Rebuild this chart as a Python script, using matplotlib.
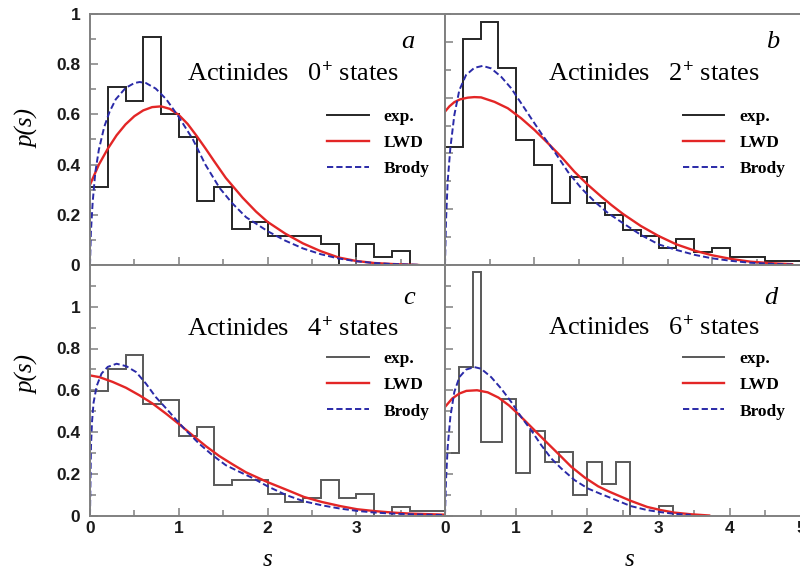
import numpy as np
import matplotlib
matplotlib.use('Agg')
import matplotlib.pyplot as plt
from matplotlib.lines import Line2D
from matplotlib.ticker import MultipleLocator, FixedLocator, FuncFormatter

plt.rcParams['font.family'] = 'Liberation Sans'
plt.rcParams['font.weight'] = 'bold'
plt.rcParams['mathtext.fontset'] = 'custom'
plt.rcParams['mathtext.rm'] = 'Liberation Serif'
plt.rcParams['mathtext.it'] = 'Liberation Serif:italic'

# ---- histograms of nearest-neighbour spacings (bin edges + heights) ----
edges_a = np.arange(0, 3.61, 0.2)
hist_a = [0.31, 0.71, 0.655, 0.91, 0.60, 0.51, 0.255, 0.31, 0.145, 0.17,
          0.115, 0.115, 0.115, 0.085, 0.0, 0.085, 0.03, 0.057]

edges_b = np.arange(0, 4.01, 0.2)
hist_b = [0.422, 0.81, 0.87, 0.707, 0.448, 0.359, 0.223, 0.315, 0.223, 0.179,
          0.125, 0.103, 0.06, 0.092, 0.048, 0.06, 0.03, 0.03, 0.014, 0.014]

edges_c = np.arange(0, 4.01, 0.2)
hist_c = [0.596, 0.703, 0.77, 0.533, 0.555, 0.381, 0.424, 0.148, 0.172, 0.172,
          0.105, 0.065, 0.085, 0.172, 0.083, 0.105, 0.0, 0.04, 0.022, 0.022]

edges_d = [0, 0.2, 0.4, 0.5, 0.8, 1.0, 1.2, 1.4, 1.6, 1.8, 2.0, 2.2, 2.4, 2.6, 3.0, 3.2]
hist_d = [0.301, 0.711, 1.166, 0.352, 0.56, 0.204, 0.405, 0.254, 0.305, 0.10,
          0.254, 0.153, 0.254, 0.0, 0.046]

# ---- LWD curves ----
s_lwd_a = [0, 0.1, 0.2, 0.3, 0.4, 0.5, 0.6, 0.7, 0.8, 0.9, 1.0, 1.1, 1.2, 1.3, 1.4, 1.53,
           1.72, 1.87, 2.0, 2.2, 2.4, 2.6, 2.8, 3.0, 3.2, 3.4, 3.7]
p_lwd_a = [0.32, 0.40, 0.463, 0.517, 0.56, 0.593, 0.616, 0.629, 0.632, 0.622, 0.598, 0.562,
           0.515, 0.465, 0.413, 0.347, 0.268, 0.213, 0.172, 0.125, 0.086, 0.055, 0.03,
           0.016, 0.008, 0.004, 0.0]

s_lwd_b = [0, 0.05, 0.105, 0.17, 0.255, 0.33, 0.405, 0.556, 0.706, 0.856, 1.006, 1.156,
           1.306, 1.456, 1.607, 1.757, 1.87, 2.0, 2.2, 2.4, 2.6, 2.81, 3.0, 3.21, 3.43,
           3.69, 3.9]
p_lwd_b = [0.55, 0.569, 0.584, 0.594, 0.60, 0.602, 0.601, 0.585, 0.562, 0.526, 0.484, 0.437,
           0.388, 0.334, 0.287, 0.245, 0.215, 0.183, 0.14, 0.104, 0.074, 0.051, 0.035,
           0.022, 0.012, 0.006, 0.003]

s_lwd_c = [0, 0.105, 0.255, 0.405, 0.556, 0.706, 0.856, 1.006, 1.156, 1.306, 1.456, 1.607,
           1.757, 2.0, 2.21, 2.41, 2.61, 2.82, 3.01, 3.21, 3.41, 3.61, 4.0]
p_lwd_c = [0.671, 0.663, 0.64, 0.612, 0.576, 0.536, 0.488, 0.437, 0.384, 0.332, 0.285, 0.245,
           0.207, 0.16, 0.124, 0.089, 0.065, 0.045, 0.03, 0.021, 0.014, 0.009, 0.004]

s_lwd_d = [0, 0.1, 0.2, 0.3, 0.45, 0.6, 0.75, 0.9, 1.023, 1.211, 1.399, 1.587, 1.775,
           1.962, 2.15, 2.315, 2.61, 2.84, 3.03, 3.22, 3.45, 3.71]
p_lwd_d = [0.52, 0.56, 0.584, 0.597, 0.60, 0.59, 0.565, 0.527, 0.488, 0.424, 0.36, 0.297,
           0.233, 0.182, 0.14, 0.113, 0.07, 0.041, 0.026, 0.014, 0.006, 0.0]

# ---- Brody curves ----
s_br_a = [0, 0.01, 0.03, 0.06, 0.1, 0.16, 0.22, 0.29, 0.4, 0.5, 0.56, 0.63, 0.74, 0.86,
          1.0, 1.16, 1.3, 1.46, 1.6, 1.76, 1.87, 2.0, 2.2, 2.4, 2.6, 2.8, 3.0, 3.2, 3.4, 3.7]
p_br_a = [0, 0.13, 0.25, 0.37, 0.46, 0.55, 0.61, 0.66, 0.705, 0.725, 0.729, 0.725, 0.703, 0.66,
          0.59, 0.50, 0.40, 0.307, 0.247, 0.19, 0.165, 0.135, 0.097, 0.066, 0.043, 0.026,
          0.015, 0.008, 0.004, 0.001]

s_br_b = [0, 0.011, 0.03, 0.06, 0.105, 0.161, 0.236, 0.33, 0.424, 0.518, 0.631, 0.743, 0.856,
          0.968, 1.081, 1.231, 1.381, 1.532, 1.682, 1.832, 2.0, 2.2, 2.4, 2.6, 2.81, 3.0,
          3.21, 3.43, 3.69, 3.9]
p_br_b = [0, 0.155, 0.299, 0.419, 0.538, 0.627, 0.681, 0.707, 0.714, 0.705, 0.675, 0.634, 0.58,
          0.526, 0.472, 0.406, 0.334, 0.275, 0.227, 0.186, 0.15, 0.108, 0.074, 0.054, 0.036,
          0.024, 0.015, 0.008, 0.004, 0.002]

s_br_c = [0, 0.011, 0.023, 0.04, 0.075, 0.13, 0.2, 0.3, 0.41, 0.52, 0.63, 0.74, 0.86, 0.97,
          1.08, 1.23, 1.38, 1.53, 1.68, 1.83, 2.0, 2.21, 2.41, 2.61, 2.82, 3.01, 3.21, 3.41,
          3.61, 4.0]
p_br_c = [0, 0.33, 0.45, 0.54, 0.62, 0.68, 0.712, 0.727, 0.715, 0.687, 0.632, 0.568, 0.512,
          0.459, 0.408, 0.344, 0.289, 0.241, 0.21, 0.18, 0.14, 0.098, 0.068, 0.049, 0.033,
          0.022, 0.014, 0.009, 0.006, 0.002]

s_br_d = [0, 0.014, 0.038, 0.075, 0.131, 0.202, 0.296, 0.413, 0.507, 0.648, 0.789, 0.93,
          1.07, 1.211, 1.352, 1.493, 1.634, 1.822, 2.009, 2.197, 2.315, 2.61, 2.84, 3.03,
          3.22, 3.45]
p_br_d = [0, 0.169, 0.329, 0.472, 0.592, 0.663, 0.699, 0.711, 0.703, 0.663, 0.608, 0.544,
          0.472, 0.408, 0.337, 0.273, 0.225, 0.169, 0.129, 0.102, 0.086, 0.045, 0.026, 0.016,
          0.008, 0.003]

titles = ['Actinides   0$^{+}$ states', 'Actinides   2$^{+}$ states',
          'Actinides   4$^{+}$ states', 'Actinides   6$^{+}$ states']
letters = ['a', 'b', 'c', 'd']

RED = '#e32626'
BLUE = '#2a2aa8'
SPINE = '#808080'
SERIF = 'Liberation Serif'

W, H = 800, 575
fig = plt.figure(figsize=(8, 5.75), dpi=100)


def add_axes_px(x0, y0, x1, y1):
    return fig.add_axes([x0 / W, 1 - y1 / H, (x1 - x0) / W, (y1 - y0) / H])


ax_a = add_axes_px(90, 14, 445, 265)
ax_b = add_axes_px(445, 14, 801, 265)
ax_c = add_axes_px(90, 265, 445, 515.5)
ax_d = add_axes_px(445, 265, 801, 515.5)

panels = [
    (ax_a, edges_a, hist_a, '#262626', s_lwd_a, p_lwd_a, s_br_a, p_br_a, 4.0, 1.0, 0.273, 0.737, 0.878, 0.866, 0.622),
    (ax_b, edges_b, hist_b, '#262626', s_lwd_b, p_lwd_b, s_br_b, p_br_b, 4.0, 0.9, 0.290, 0.737, 0.901, 0.866, 0.622),
    (ax_c, edges_c, hist_c, '#595959', s_lwd_c, p_lwd_c, s_br_c, p_br_c, 4.0, 1.2, 0.273, 0.717, 0.882, 0.843, 0.657),
    (ax_d, edges_d, hist_d, '#595959', s_lwd_d, p_lwd_d, s_br_d, p_br_d, 5.0, 1.2, 0.290, 0.721, 0.896, 0.843, 0.657),
]

for i, (ax, edges, hist, hcol, sl, pl, sb, pb, xmax, ymax, tx, ty, lx, ly, legy) in enumerate(panels):
    ax.stairs(hist, edges, color=hcol, lw=1.4, baseline=0)
    ax.plot(sl, pl, color=RED, lw=1.7)
    ax.plot(sb, pb, color=BLUE, lw=1.4, dashes=(3.2, 1.6))
    ax.set_xlim(0, xmax)
    ax.set_ylim(0, ymax)

    ax.xaxis.set_major_locator(FixedLocator([0, 1, 2, 3] if xmax == 4.0 else [0, 1, 2, 3, 4, 5]))
    ax.xaxis.set_minor_locator(MultipleLocator(0.5))
    # labelled y ticks stop at 1
    ax.yaxis.set_major_locator(FixedLocator([0, 0.2, 0.4, 0.6, 0.8, 1.0]))
    ax.yaxis.set_minor_locator(MultipleLocator(0.1))
    ax.yaxis.set_major_formatter(FuncFormatter(lambda v, _: '%g' % round(v, 2)))
    ax.tick_params(which='both', direction='in', top=False, right=False,
                   color=SPINE, labelcolor='#1a1a1a', labelsize=12.5, width=1.1)
    ax.tick_params(which='major', length=6)
    ax.tick_params(which='minor', length=4)
    ax.tick_params(axis='x', pad=4)
    ax.tick_params(axis='y', pad=7)
    if i < 2:
        ax.tick_params(labelbottom=False)
    if i % 2 == 1:
        ax.tick_params(labelleft=False)
    for sp in ax.spines.values():
        sp.set_color(SPINE)
        sp.set_linewidth(1.4)

    ax.text(tx, ty, titles[i], transform=ax.transAxes, fontsize=19,
            family=SERIF, weight='normal', va='baseline', ha='left')
    ax.text(lx, ly, letters[i], transform=ax.transAxes, fontsize=19,
            family=SERIF, style='italic', weight='normal', va='baseline', ha='left')

    handles = [Line2D([], [], color=hcol, lw=1.4),
               Line2D([], [], color=RED, lw=1.7),
               Line2D([], [], color=BLUE, lw=1.4, dashes=(3.2, 1.6))]
    ax.legend(handles, ['exp.', 'LWD', 'Brody'], loc='upper left',
              bbox_to_anchor=(0.668, legy), frameon=False, borderpad=0,
              borderaxespad=0, handlelength=2.4, handletextpad=0.85,
              labelspacing=0.58,
              prop={'family': SERIF, 'weight': 'bold', 'size': 12.5})

# axis titles
for yc in (128, 375):
    fig.text(28 / W, 1 - yc / H, 'p(s)', rotation=90, fontsize=18, family=SERIF,
             style='italic', weight='normal', ha='center', va='center')
for xc in (268, 630):
    fig.text(xc / W, 1 - 560 / H, 's', fontsize=18, family=SERIF,
             style='italic', weight='normal', ha='center', va='center')

fig.savefig('out.png', dpi=100)
